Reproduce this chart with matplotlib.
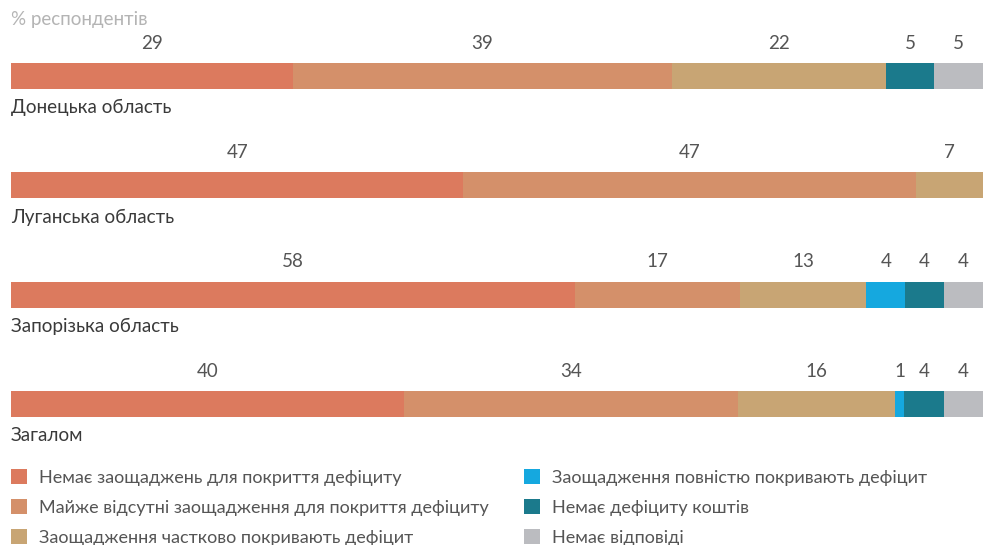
import numpy as np
import matplotlib
matplotlib.use("Agg")
import matplotlib.pyplot as plt
from matplotlib.patches import Patch

plt.rcParams['font.family'] = ['Lato', 'Open Sans', 'DejaVu Sans']

# Regions (top to bottom) and answer categories
regions = ["Донецька область", "Луганська область", "Запорізька область", "Загалом"]
categories = [
    "Немає заощаджень для покриття дефіциту",
    "Майже відсутні заощадження для покриття дефіциту",
    "Заощадження частково покривають дефіцит",
    "Заощадження повністю покривають дефіцит",
    "Немає дефіциту коштів",
    "Немає відповіді",
]
colors = ["#DC7A5E", "#D4906A", "#C8A574", "#15A8DF", "#1B7A8C", "#BBBCC0"]

# Shares per region, one list per category (0 = not shown)
no_savings = [29, 47, 58, 40]
almost_none = [39, 47, 17, 34]
partly = [22, 7, 13, 16]
fully = [0, 0, 4, 1]
no_deficit = [5, 0, 4, 4]
no_answer = [5, 0, 4, 4]

values = np.array([no_savings, almost_none, partly, fully, no_deficit, no_answer], dtype=float)
# stretch every row to the full width (100% stacked)
shares = values / values.sum(axis=0) * 100

W, H = 984, 545
fig = plt.figure(figsize=(W / 100, H / 100), dpi=100)
ax = fig.add_axes([11 / W, 0, 972 / W, 1])
ax.set_xlim(0, 100)
ax.set_ylim(4.29, -0.695)
ax.axis('off')

label_color = "#555555"
ypos = np.arange(len(regions))
left = np.zeros(len(regions))
for k in range(len(categories)):
    ax.barh(ypos, shares[k], left=left, height=0.238, color=colors[k], linewidth=0)
    for i in range(len(regions)):
        if values[k, i] > 0:
            ax.text(left[i] + shares[k, i] / 2, ypos[i] - 0.30, f"{values[k, i]:.0f}",
                    ha='center', va='center', fontsize=13.5, color=label_color)
    left += shares[k]

for i, name in enumerate(regions):
    ax.text(0, ypos[i] + 0.29, name, ha='left', va='center', fontsize=13.6, color="#3a3a3a")

fig.text(11 / W, 1 - 20 / H, "% респондентів", ha='left', va='center', fontsize=13.5, color="#b4b4b4")

handles = [Patch(facecolor=c, edgecolor='none') for c in colors]
fig.legend(handles, categories, ncol=2, loc='upper left', bbox_to_anchor=(4 / W, 1 - 462 / H),
           frameon=False, fontsize=13, labelcolor=label_color, handlelength=0.85, handleheight=0.85,
           handletextpad=0.7, labelspacing=0.75, columnspacing=1.95, borderaxespad=0)

fig.savefig("out.png", dpi=100)
